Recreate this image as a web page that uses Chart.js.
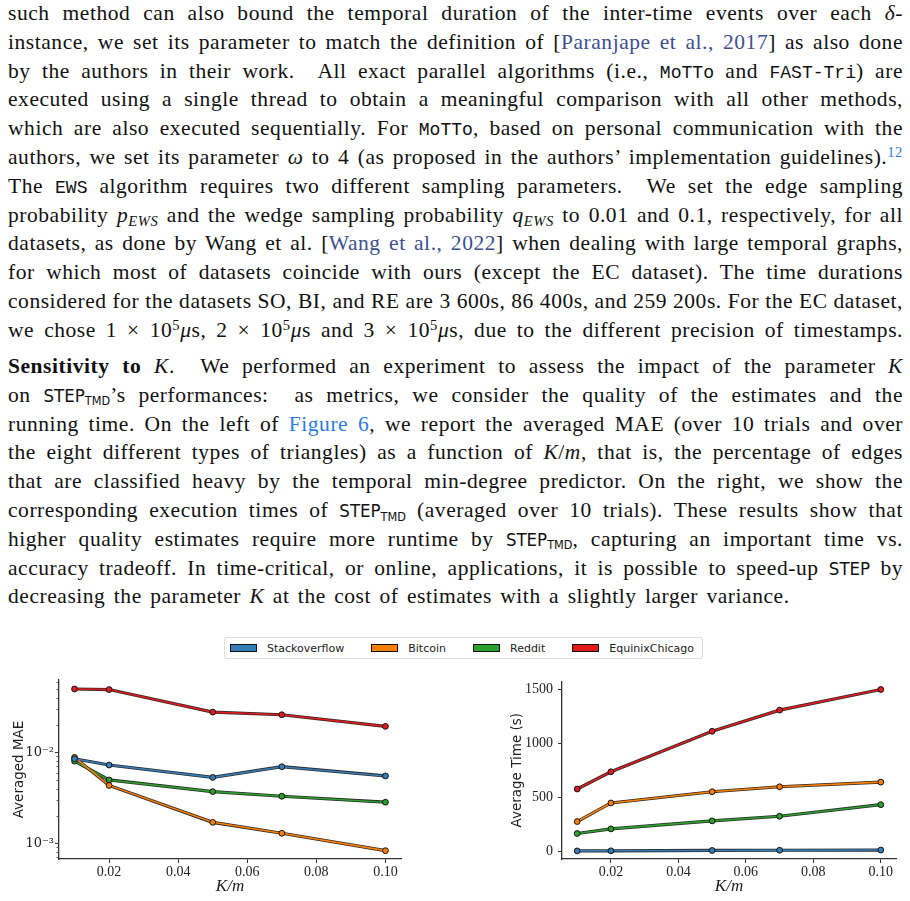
<!DOCTYPE html>
<html>
<head>
<meta charset="utf-8">
<script src="https://cdn.jsdelivr.net/npm/chart.js@4.4.1/dist/chart.umd.min.js"></script>
<style>
  html, body { margin: 0; padding: 0; background: #fff; }
  body { width: 910px; height: 901px; position: relative; overflow: hidden; }
  .para { position: absolute; left: 8px; width: 895px; font-family: "Liberation Serif", serif; font-size: 21.5px; letter-spacing: 0.55px; color: #111; }
  .ln { height: 28.8px; line-height: 28.8px; text-align: justify; text-align-last: justify; overflow: visible; }
  .ln.end { text-align-last: left; word-spacing: 2.5px; }
  .tt { font-family: "Liberation Mono", monospace; font-size: 0.84em; letter-spacing: 0; }
  .sf { font-family: "DejaVu Sans Condensed", "DejaVu Sans", sans-serif; font-size: 0.86em; letter-spacing: 0; }
  .sub { font-size: 0.68em; position: relative; top: 0.28em; line-height: 0; }
  .sup { font-size: 0.68em; position: relative; top: -0.45em; line-height: 0; }
  .cite { color: #3d4f8f; }
  .ref { color: #2d7de0; }
  #legend { position: absolute; left: 224px; top: 637px; width: 479px; height: 22px; border: 1px solid #dcdcdc; border-radius: 3px;
            display: flex; align-items: center; padding-left: 5px; box-sizing: border-box; font-family: "DejaVu Sans", sans-serif; font-size: 11px; color: #222; }
  #legend .item { display: flex; align-items: center; margin-right: 27px; }
  #legend .patch { width: 27px; height: 8px; border: 1px solid #111; margin-right: 10px; box-sizing: border-box; }
  canvas { position: absolute; }
</style>
</head>
<body>

<div class="para" style="top:-1px">
  <div class="ln">such method can also bound the temporal duration of the inter-time events over each <i>δ</i>-</div>
  <div class="ln">instance, we set its parameter to match the definition of [<span class="cite">Paranjape et al., 2017</span>] as also done</div>
  <div class="ln">by the authors in their work. &nbsp;All exact parallel algorithms (i.e., <span class="tt">MoTTo</span> and <span class="tt">FAST-Tri</span>) are</div>
  <div class="ln">executed using a single thread to obtain a meaningful comparison with all other methods,</div>
  <div class="ln">which are also executed sequentially. For <span class="tt">MoTTo</span>, based on personal communication with the</div>
  <div class="ln">authors, we set its parameter <i>ω</i> to 4 (as proposed in the authors’ implementation guidelines).<span class="sup ref">12</span></div>
  <div class="ln">The <span class="tt">EWS</span> algorithm requires two different sampling parameters. &nbsp;We set the edge sampling</div>
  <div class="ln">probability <i>p<span class="sub">EWS</span></i> and the wedge sampling probability <i>q<span class="sub">EWS</span></i> to 0.01 and 0.1, respectively, for all</div>
  <div class="ln">datasets, as done by Wang et al. [<span class="cite">Wang et al., 2022</span>] when dealing with large temporal graphs,</div>
  <div class="ln">for which most of datasets coincide with ours (except the EC dataset). The time durations</div>
  <div class="ln">considered for the datasets SO, BI, and RE are 3 600s, 86 400s, and 259 200s. For the EC dataset,</div>
  <div class="ln">we chose 1 × 10<span class="sup">5</span><i>μ</i>s, 2 × 10<span class="sup">5</span><i>μ</i>s and 3 × 10<span class="sup">5</span><i>μ</i>s, due to the different precision of timestamps.</div>
</div>

<div class="para" style="top:352px">
  <div class="ln"><b>Sensitivity to</b> <i>K</i>. &nbsp;We performed an experiment to assess the impact of the parameter <i>K</i></div>
  <div class="ln">on <span class="sf">STEP<span class="sub">TMD</span></span>’s performances: &nbsp;as metrics, we consider the quality of the estimates and the</div>
  <div class="ln">running time. On the left of <span class="ref">Figure 6</span>, we report the averaged MAE (over 10 trials and over</div>
  <div class="ln">the eight different types of triangles) as a function of <i>K</i>/<i>m</i>, that is, the percentage of edges</div>
  <div class="ln">that are classified heavy by the temporal min-degree predictor. On the right, we show the</div>
  <div class="ln">corresponding execution times of <span class="sf">STEP<span class="sub">TMD</span></span> (averaged over 10 trials). These results show that</div>
  <div class="ln">higher quality estimates require more runtime by <span class="sf">STEP<span class="sub">TMD</span></span>, capturing an important time vs.</div>
  <div class="ln">accuracy tradeoff. In time-critical, or online, applications, it is possible to speed-up <span class="sf">STEP</span> by</div>
  <div class="ln end">decreasing the parameter <i>K</i> at the cost of estimates with a slightly larger variance.</div>
</div>

<div id="legend"></div>
<canvas id="graficoMae" width="413" height="233" style="left:7px; top:668px;"></canvas>
<canvas id="graficoTiempo" width="405" height="233" style="left:505px; top:668px;"></canvas>

<script>
// datos
var kValues = [0.01, 0.02, 0.05, 0.07, 0.10];
var seriesNames = ['Stackoverflow', 'Bitcoin', 'Reddit', 'EquinixChicago'];
var seriesColors = ['#377eb8', '#ff7f00', '#2ca02c', '#e41a1c'];

var maeStackoverflow = [0.0085, 0.00725, 0.0053, 0.00695, 0.0055];
var maeBitcoin = [0.0088, 0.00433, 0.0017, 0.00129, 0.00083];
var maeReddit = [0.0080, 0.00497, 0.0037, 0.00329, 0.00283];
var maeEquinix = [0.0497, 0.0490, 0.0277, 0.0259, 0.0193];

var timeStackoverflow = [5, 6, 9, 11, 13];
var timeBitcoin = [277, 449, 553, 599, 642];
var timeReddit = [166, 209, 283, 326, 433];
var timeEquinix = [578, 738, 1113, 1309, 1500];

var xTicks = [0.02, 0.04, 0.06, 0.08, 0.10];
var maeTicks = [0.001, 0.01];
var maeMinorTicks = [0.0007, 0.0008, 0.0009, 0.002, 0.003, 0.004, 0.005, 0.006, 0.007, 0.008, 0.009, 0.02, 0.03, 0.04, 0.05, 0.06];
var timeTicks = [0, 500, 1000, 1500];

var AXIS = '#333';
Chart.defaults.color = '#222';

// leyenda compartida
var legend = document.getElementById('legend');
seriesNames.forEach(function (name, i) {
    var item = document.createElement('div');
    item.className = 'item';
    item.innerHTML = '<span class="patch" style="background:' + seriesColors[i] + '"></span>' + name;
    legend.appendChild(item);
});

function armarDatasets(series) {
    var sets = [];
    series.forEach(function (vals, i) {
        var pts = vals.map(function (v, j) { return { x: kValues[j], y: v }; });
        // borde oscuro de la linea
        sets.push({ data: pts, borderColor: '#2a2a2a', borderWidth: 3.2, pointRadius: 0, order: 2 });
        sets.push({
            data: pts, borderColor: seriesColors[i], borderWidth: 1.6,
            pointRadius: 2.9, pointBackgroundColor: seriesColors[i],
            pointBorderColor: '#111', pointBorderWidth: 1, order: 1
        });
    });
    return sets;
}

function ejeX() {
    return {
        type: 'linear', min: 0.0055, max: 0.1045,
        afterBuildTicks: function (s) { s.ticks = xTicks.map(function (v) { return { value: v }; }); },
        afterFit: function (s) { s.height = 42; },
        ticks: { font: { family: 'Liberation Serif', size: 14 }, padding: 1, autoSkip: false, maxRotation: 0,
                 callback: function (v) { return v.toFixed(2); } },
        grid: { drawOnChartArea: false, tickLength: 4, color: AXIS, tickWidth: 1 },
        border: { color: AXIS, width: 1.3 },
        title: { display: true, text: 'K/m', font: { family: 'Liberation Serif', size: 17, style: 'italic' }, padding: { top: 0, bottom: 4 } }
    };
}

var minorTicks = {
    id: 'minorTicks',
    afterDraw: function (chart, args, opts) {
        if (!opts.values) return;
        var y = chart.scales.y, ctx = chart.ctx;
        ctx.save();
        ctx.strokeStyle = AXIS;
        ctx.lineWidth = 0.8;
        opts.values.forEach(function (v) {
            if (v < y.min || v > y.max) return;
            var py = Math.round(y.getPixelForValue(v)) + 0.5;
            ctx.beginPath();
            ctx.moveTo(y.right - 2.5, py);
            ctx.lineTo(y.right, py);
            ctx.stroke();
        });
        ctx.restore();
    }
};

var supers = { '-': '⁻', '0': '⁰', '1': '¹', '2': '²', '3': '³', '4': '⁴', '5': '⁵' };

new Chart(document.getElementById('graficoMae'), {
    type: 'line',
    data: { datasets: armarDatasets([maeStackoverflow, maeBitcoin, maeReddit, maeEquinix]) },
    options: {
        responsive: false, animation: false,
        layout: { padding: { top: 12, right: 19, left: 0, bottom: 0 } },
        plugins: { legend: { display: false }, tooltip: { enabled: false }, minorTicks: { values: maeMinorTicks } },
        scales: {
            x: ejeX(),
            y: {
                type: 'logarithmic', min: 0.000672, max: 0.0624,
                afterBuildTicks: function (s) { s.ticks = maeTicks.map(function (v) { return { value: v }; }); },
                afterFit: function (s) { s.width = 52; },
                ticks: { font: { family: 'DejaVu Serif', size: 13 }, padding: 1, autoSkip: false,
                         callback: function (v) {
                             var e = String(Math.round(Math.log10(v)));
                             return '10' + e.split('').map(function (c) { return supers[c]; }).join('');
                         } },
                grid: { drawOnChartArea: false, tickLength: 4, color: AXIS },
                border: { color: AXIS, width: 1.3 },
                title: { display: true, text: 'Averaged MAE', font: { family: 'DejaVu Sans', size: 13.5 }, padding: { top: 4, bottom: 2 } }
            }
        }
    },
    plugins: [minorTicks]
});

new Chart(document.getElementById('graficoTiempo'), {
    type: 'line',
    data: { datasets: armarDatasets([timeStackoverflow, timeBitcoin, timeReddit, timeEquinix]) },
    options: {
        responsive: false, animation: false,
        layout: { padding: { top: 12, right: 14, left: 0, bottom: 0 } },
        plugins: { legend: { display: false }, tooltip: { enabled: false } },
        scales: {
            x: ejeX(),
            y: {
                type: 'linear', min: -70, max: 1575,
                afterBuildTicks: function (s) { s.ticks = timeTicks.map(function (v) { return { value: v }; }); },
                afterFit: function (s) { s.width = 57; },
                ticks: { font: { family: 'Liberation Serif', size: 14 }, padding: 5, autoSkip: false,
                         callback: function (v) { return String(v); } },
                grid: { drawOnChartArea: false, tickLength: 4, color: AXIS },
                border: { color: AXIS, width: 1.3 },
                title: { display: true, text: 'Average Time (s)', font: { family: 'DejaVu Sans', size: 13.5 }, padding: { top: 4, bottom: 2 } }
            }
        }
    }
});
</script>
</body>
</html>
